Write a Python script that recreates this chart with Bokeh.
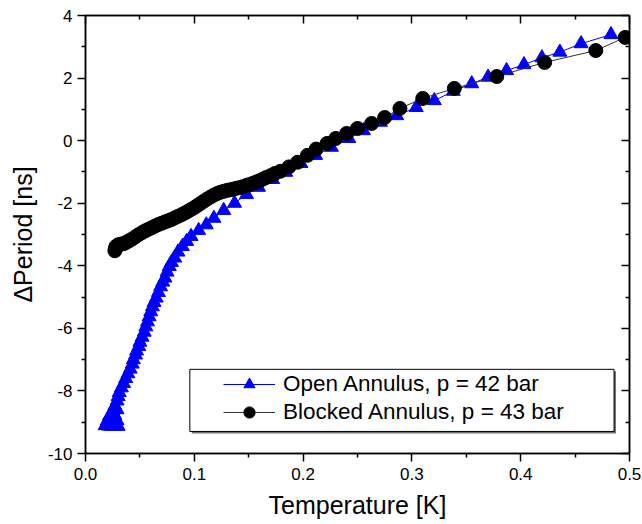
from bokeh.plotting import figure
from bokeh.models import (LinearAxis, FixedTicker, PrintfTickFormatter, Range1d,
                          Legend, LegendItem, BoxAnnotation)
from bokeh.embed import file_html
from bokeh.resources import INLINE

# ---- data ----
open_T = [0.030, 0.027, 0.024, 0.021, 0.018, 0.020, 0.029, 0.022, 0.027, 0.025,
          0.029, 0.027, 0.029, 0.030, 0.031, 0.033, 0.035, 0.037, 0.039, 0.041,
          0.043, 0.044, 0.046, 0.047, 0.049, 0.050, 0.052, 0.054, 0.0555, 0.057,
          0.0585, 0.060, 0.0615, 0.063, 0.065, 0.067, 0.069, 0.071, 0.073, 0.075,
          0.077, 0.079, 0.082, 0.085, 0.089, 0.093, 0.097, 0.104, 0.111, 0.118,
          0.127, 0.137, 0.148, 0.159, 0.172, 0.184, 0.198, 0.2115, 0.226, 0.242,
          0.2555, 0.271, 0.286, 0.304, 0.3206, 0.338, 0.355, 0.370, 0.387, 0.403,
          0.4195, 0.436, 0.4555, 0.483]
open_dP = [-9.13, -9.13, -9.13, -9.12, -9.11, -8.96, -8.95, -8.80, -8.78, -8.64,
           -8.60, -8.47, -8.32, -8.18, -8.05, -7.90, -7.76, -7.60, -7.45, -7.30,
           -7.14, -7.00, -6.85, -6.72, -6.58, -6.44, -6.28, -6.12, -5.95, -5.79,
           -5.63, -5.47, -5.31, -5.17, -5.03, -4.85, -4.67, -4.52, -4.39, -4.20,
           -4.02, -3.89, -3.75, -3.56, -3.38, -3.22, -3.06, -2.87, -2.69, -2.48,
           -2.23, -2.00, -1.72, -1.49, -1.24, -1.01, -0.73, -0.47, -0.21, 0.07,
           0.32, 0.59, 0.80, 1.06, 1.28, 1.58, 1.82, 2.03, 2.24, 2.43,
           2.65, 2.83, 3.10, 3.39]

blocked_T = [0.027, 0.0275, 0.028, 0.030, 0.032, 0.034, 0.036, 0.038, 0.040, 0.043,
             0.046, 0.049, 0.052, 0.055, 0.058, 0.061, 0.064, 0.067, 0.070, 0.073,
             0.076, 0.079, 0.082, 0.085, 0.088, 0.091, 0.094, 0.097, 0.100, 0.103,
             0.106, 0.109, 0.112, 0.115, 0.118, 0.121, 0.124, 0.127, 0.130, 0.133,
             0.136, 0.139, 0.142, 0.145, 0.148, 0.151, 0.154, 0.157, 0.160, 0.163,
             0.166, 0.170, 0.174, 0.179, 0.187, 0.195, 0.204, 0.212, 0.222, 0.230,
             0.240, 0.250, 0.263, 0.275, 0.289, 0.310, 0.339, 0.378, 0.422, 0.469,
             0.496]
blocked_dP = [-3.52, -3.45, -3.38, -3.33, -3.31, -3.30, -3.28, -3.24, -3.20, -3.14,
              -3.07, -3.00, -2.94, -2.88, -2.83, -2.78, -2.73, -2.68, -2.64, -2.60,
              -2.56, -2.52, -2.47, -2.42, -2.37, -2.32, -2.26, -2.20, -2.14, -2.07,
              -2.00, -1.93, -1.86, -1.80, -1.74, -1.69, -1.65, -1.62, -1.59, -1.57,
              -1.55, -1.52, -1.50, -1.47, -1.43, -1.40, -1.36, -1.32, -1.28, -1.23,
              -1.18, -1.12, -1.05, -0.98, -0.84, -0.69, -0.47, -0.27, -0.09, 0.07,
              0.23, 0.39, 0.55, 0.74, 1.03, 1.35, 1.67, 2.05, 2.50, 2.88,
              3.30]

x_ticks = [0.0, 0.1, 0.2, 0.3, 0.4, 0.5]
x_minor = [0.05, 0.15, 0.25, 0.35, 0.45]
y_ticks = [-10, -8, -6, -4, -2, 0, 2, 4]
y_minor = [-9, -7, -5, -3, -1, 1, 3]
series_labels = ["Open Annulus, p = 42 bar", "Blocked Annulus, p = 43 bar"]
x_title = "Temperature [K]"
y_title = "\u0394Period [ns]"

FONT = "Liberation Sans"

p = figure(width=642, height=524, output_backend="svg", toolbar_location=None,
           x_range=Range1d(0, 0.5), y_range=Range1d(-10, 4),
           min_border_left=85, min_border_right=13, min_border_top=15,
           min_border_bottom=71, x_axis_label=x_title, y_axis_label=y_title)
p.xgrid.visible = False
p.ygrid.visible = False
p.outline_line_color = "black"
p.outline_line_width = 1.5
p.background_fill_color = "white"
p.border_fill_color = "white"

p.xaxis.ticker = FixedTicker(ticks=x_ticks, minor_ticks=x_minor)
p.yaxis.ticker = FixedTicker(ticks=y_ticks, minor_ticks=y_minor)
p.xaxis.formatter = PrintfTickFormatter(format="%.1f")
p.yaxis.formatter = PrintfTickFormatter(format="%d")

for ax in (p.xaxis[0], p.yaxis[0]):
    ax.axis_line_width = 1.5
    ax.major_tick_line_width = 1.5
    ax.minor_tick_line_width = 1.5
    ax.major_tick_in = 0
    ax.major_tick_out = 8
    ax.minor_tick_in = 0
    ax.minor_tick_out = 4
    ax.major_label_text_font = FONT
    ax.major_label_text_font_size = "17px"
    ax.major_label_text_color = "black"
    ax.axis_label_text_font = FONT
    ax.axis_label_text_font_size = "25px"
    ax.axis_label_text_font_style = "normal"
    ax.axis_label_text_color = "black"
p.xaxis.major_label_standoff = 6
p.xaxis.axis_label_standoff = 8
p.yaxis.major_label_standoff = 5
p.yaxis.axis_label_standoff = 8

top = LinearAxis(ticker=FixedTicker(ticks=x_ticks, minor_ticks=x_minor),
                 major_label_overrides={t: "" for t in x_ticks})
right = LinearAxis(ticker=FixedTicker(ticks=y_ticks, minor_ticks=y_minor),
                   major_label_overrides={t: "" for t in y_ticks})
for ax in (top, right):
    ax.axis_line_width = 1.5
    ax.major_tick_line_width = 1.5
    ax.minor_tick_line_width = 1.5
    ax.major_tick_in = 8
    ax.major_tick_out = 0
    ax.minor_tick_in = 4
    ax.minor_tick_out = 0
    ax.major_label_standoff = 0
p.add_layout(top, "above")
p.add_layout(right, "right")

bl = p.line(open_T, open_dP, line_color="#0000FF", line_width=1)
bs = p.scatter(open_T, open_dP, marker="triangle", size=14,
               fill_color="#0000FF", line_color="#0000FF")
kl = p.line(blocked_T, blocked_dP, line_color="#333333", line_width=1)
ks = p.scatter(blocked_T, blocked_dP, marker="circle", size=14,
               fill_color="black", line_color="black")

# legend frame (layout positions)
box_l, box_r, box_t, box_b = 0.0959, 0.4858, -7.31, -9.295
p.add_layout(BoxAnnotation(left=box_l + 0.0018, right=box_r + 0.0018,
                           top=box_t - 0.064, bottom=box_b - 0.064,
                           fill_color="#707070", fill_alpha=1, line_color=None))
p.add_layout(BoxAnnotation(left=box_l, right=box_r, top=box_t, bottom=box_b,
                           fill_color="white", fill_alpha=1,
                           line_color="black", line_width=1, line_alpha=1))

legend = Legend(items=[LegendItem(label=series_labels[0], renderers=[bl, bs]),
                       LegendItem(label=series_labels[1], renderers=[kl, ks])],
                location=(138, 27), padding=0, margin=0,
                border_line_color=None, background_fill_alpha=0,
                glyph_width=52, glyph_height=28, label_height=25,
                label_standoff=8, spacing=0,
                label_text_font=FONT, label_text_font_size="22.5px",
                label_text_color="black")
p.add_layout(legend)

open("out.html", "w").write(file_html(p, INLINE))
